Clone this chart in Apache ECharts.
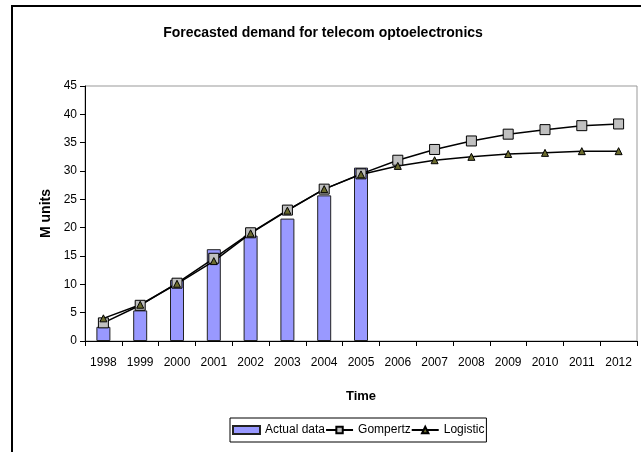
<!DOCTYPE html>
<html><head><meta charset="utf-8">
<script src="https://cdn.jsdelivr.net/npm/echarts@6/dist/echarts.min.js"></script>
<style>html,body{margin:0;padding:0;background:#fff}#c{width:641px;height:452px}</style>
</head><body><div id="c"></div>
<script>
const years = ['1998','1999','2000','2001','2002','2003','2004','2005','2006','2007','2008','2009','2010','2011','2012'];
const actualData = [2.5, 5.4, 10.8, 16.2, 18.6, 21.6, 25.7, 30.6];
const gompertz = [3.2, 6.3, 10.2, 14.6, 19.1, 23.1, 26.8, 29.5, 31.9, 33.8, 35.3, 36.5, 37.3, 38.0, 38.3];
const logistic = [4.0, 6.4, 10.1, 14.1, 19.0, 23.0, 26.8, 29.4, 30.9, 31.9, 32.5, 33.0, 33.2, 33.5, 33.5];
const yTicks = [0, 5, 10, 15, 20, 25, 30, 35, 40, 45];

const font = '"Liberation Sans", Arial, sans-serif';
const chart = echarts.init(document.getElementById('c'), null, {renderer: 'canvas'});
chart.setOption({
  animation: false,
  backgroundColor: '#fff',
  title: {
    text: 'Forecasted demand for telecom optoelectronics',
    left: 323, top: 26, textAlign: 'center', padding: 0,
    textStyle: {fontFamily: font, fontSize: 14, fontWeight: 'bold', color: '#000'}
  },
  graphic: [{
    type: 'rect', shape: {x: 12, y: 6, width: 700, height: 500},
    style: {fill: 'none', stroke: '#000', lineWidth: 2}, silent: true
  }],
  grid: {left: 85, top: 86, width: 552, height: 255, show: true, borderColor: '#999', borderWidth: 1, backgroundColor: 'transparent'},
  legend: {
    left: 230, top: 418,
    padding: [6, 2, 6, 2], itemGap: 0, itemWidth: 27, itemHeight: 8,
    borderColor: '#000', borderWidth: 1,
    textStyle: {fontFamily: font, fontSize: 12, color: '#000'},
    data: [{name: 'Actual data', icon: 'rect'}, 'Gompertz', 'Logistic']
  },
  xAxis: {
    type: 'category', data: years, boundaryGap: true,
    name: 'Time', nameLocation: 'middle', nameGap: 49,
    nameTextStyle: {fontFamily: font, fontSize: 13, fontWeight: 'bold', color: '#000'},
    axisLine: {lineStyle: {color: '#000', width: 1}},
    axisTick: {show: true, length: 5, lineStyle: {color: '#000'}},
    axisLabel: {fontFamily: font, fontSize: 12, color: '#000', margin: 16, interval: 0}
  },
  yAxis: {
    type: 'value', min: yTicks[0], max: yTicks[yTicks.length - 1], interval: 5,
    name: 'M units', nameLocation: 'middle', nameGap: 20, nameRotate: 90,
    nameTextStyle: {fontFamily: font, fontSize: 14, fontWeight: 'bold', color: '#000'},
    axisLine: {show: true, lineStyle: {color: '#000', width: 1}},
    axisTick: {show: true, length: 5, lineStyle: {color: '#000'}},
    splitLine: {show: false},
    axisLabel: {fontFamily: font, fontSize: 12, color: '#000', margin: 8}
  },
  series: [
    {
      name: 'Actual data', type: 'bar', data: actualData, barWidth: 14,
      itemStyle: {color: '#9999FF', borderColor: '#222', borderWidth: 1}
    },
    {
      name: 'Gompertz', type: 'line', data: gompertz, symbol: 'rect', symbolSize: 10,
      lineStyle: {color: '#000', width: 1.5},
      itemStyle: {color: '#C0C0C0', borderColor: '#000', borderWidth: 1}
    },
    {
      name: 'Logistic', type: 'line', data: logistic, symbol: 'triangle', symbolSize: 7,
      lineStyle: {color: '#000', width: 1.5},
      itemStyle: {color: '#6B6B2E', borderColor: '#000', borderWidth: 1}
    }
  ]
});
</script></body></html>
